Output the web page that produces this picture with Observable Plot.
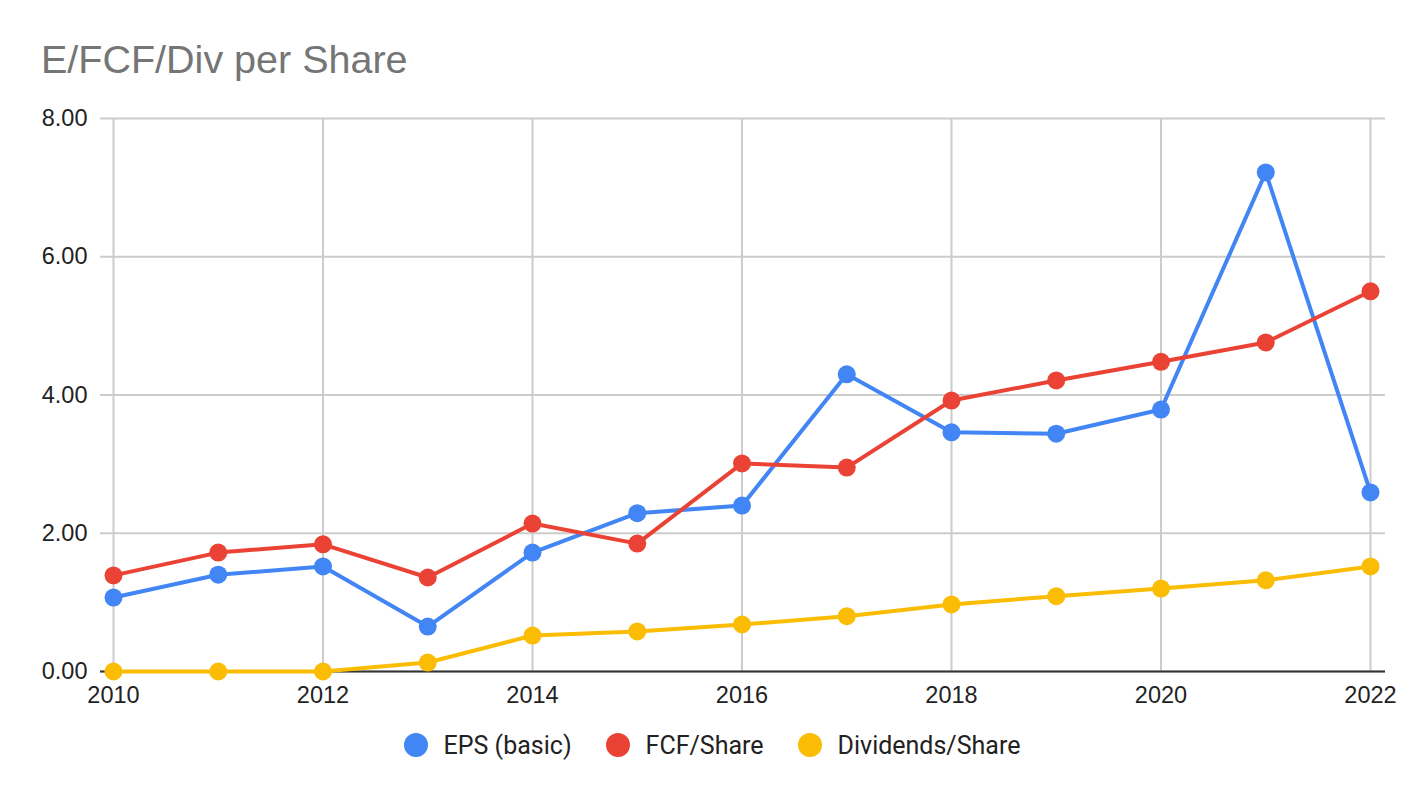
<!DOCTYPE html>
<html>
<head>
<meta charset="utf-8">
<script src="https://cdn.jsdelivr.net/npm/d3@7"></script>
<script src="https://cdn.jsdelivr.net/npm/@observablehq/plot@0.6"></script>
<style>
  html, body { margin: 0; padding: 0; background: #fff; }
  body { width: 1424px; height: 798px; position: relative; overflow: hidden; font-family: "Liberation Sans", Arial, sans-serif; }
  #title { position: absolute; left: 41px; top: 36px; font-size: 39.5px; color: #757575; line-height: 46px; white-space: nowrap; }
  #chart { position: absolute; left: 0; top: 100px; }
  #legend { position: absolute; left: 0; top: 711px; width: 1424px; height: 68px; display: flex; justify-content: center; align-items: center; gap: 34px; font-family: Roboto, "Liberation Sans", sans-serif; font-size: 25px; color: #222; }
  .item { display: flex; align-items: center; gap: 16px; }
  .sw { width: 24px; height: 24px; border-radius: 50%; display: inline-block; }
</style>
</head>
<body>
<div id="title">E/FCF/Div per Share</div>
<div id="chart"></div>
<div id="legend"></div>
<script>
const years = [2010, 2011, 2012, 2013, 2014, 2015, 2016, 2017, 2018, 2019, 2020, 2021, 2022];
const eps = [1.07, 1.40, 1.52, 0.65, 1.72, 2.29, 2.40, 4.30, 3.46, 3.44, 3.79, 7.22, 2.59];
const fcf = [1.39, 1.72, 1.84, 1.36, 2.14, 1.85, 3.01, 2.95, 3.92, 4.21, 4.48, 4.76, 5.50];
const div = [0.00, 0.00, 0.00, 0.13, 0.52, 0.58, 0.68, 0.80, 0.97, 1.09, 1.20, 1.32, 1.52];
const seriesNames = ["EPS (basic)", "FCF/Share", "Dividends/Share"];
const seriesColors = ["#4285F4", "#EA4335", "#FBBC04"];
const xTicks = [2010, 2012, 2014, 2016, 2018, 2020, 2022];
const yTicks = [0, 2, 4, 6, 8];

const seriesValues = [eps, fcf, div];
const data = [];
seriesNames.forEach((name, i) => {
  years.forEach((yr, j) => data.push({ series: name, year: yr, value: seriesValues[i][j] }));
});

const plot = Plot.plot({
  width: 1424,
  height: 611,
  marginLeft: 100,
  marginRight: 39,
  marginTop: 18,
  marginBottom: 40,
  insetLeft: 13,
  insetRight: 15,
  style: { fontFamily: "Liberation Sans, Arial, sans-serif", fontSize: "23.5px", color: "#222", background: "#fff" },
  x: { domain: [2010, 2022], label: null },
  y: { domain: [0, 8], label: null },
  color: { domain: seriesNames, range: seriesColors },
  marks: [
    Plot.gridY(yTicks, { stroke: "#cccccc", strokeOpacity: 1, strokeWidth: 2 }),
    Plot.gridX(xTicks, { stroke: "#cccccc", strokeOpacity: 1, strokeWidth: 2 }),
    Plot.axisY(yTicks, { tickSize: 0, tickPadding: 13, tickFormat: d3.format(".2f"), label: null, fill: "#222" }),
    Plot.axisX(xTicks, { tickSize: 0, tickPadding: 15, tickFormat: d => String(d), label: null, fill: "#222" }),
    Plot.ruleY([0], { stroke: "#333", strokeWidth: 2 }),
    Plot.line(data, { x: "year", y: "value", z: "series", stroke: "series", strokeWidth: 4, curve: "linear" }),
    Plot.dot(data, { x: "year", y: "value", fill: "series", r: 9, stroke: "none" })
  ]
});
document.getElementById("chart").appendChild(plot);

const legend = document.getElementById("legend");
seriesNames.forEach((name, i) => {
  const it = document.createElement("div");
  it.className = "item";
  const sw = document.createElement("span");
  sw.className = "sw";
  sw.style.background = seriesColors[i];
  const tx = document.createElement("span");
  tx.textContent = name;
  it.appendChild(sw);
  it.appendChild(tx);
  legend.appendChild(it);
});
</script>
</body>
</html>
